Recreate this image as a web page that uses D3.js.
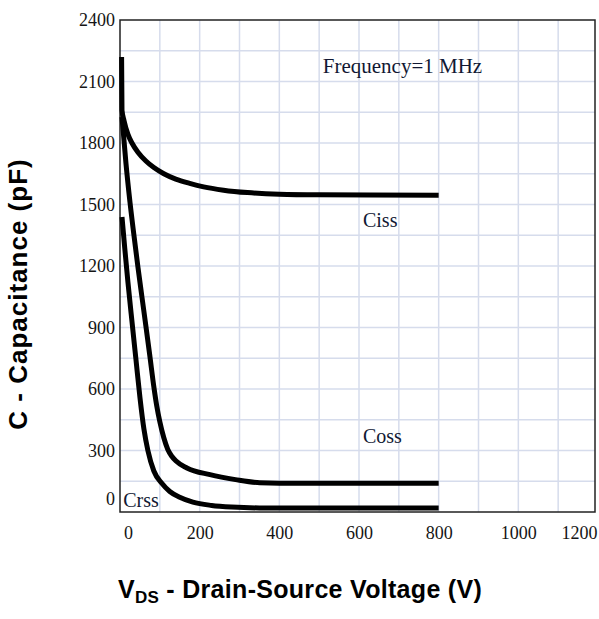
<!DOCTYPE html>
<html><head><meta charset="utf-8">
<script src="https://cdn.jsdelivr.net/npm/d3@7"></script>
<style>
html,body{margin:0;padding:0;background:#fff;}
svg{display:block;}
</style></head>
<body>
<svg id="chart" width="599" height="619"></svg>
<script>
// ---- data ----
const cissV = [4, 5, 10, 20, 30, 45, 65, 85, 110, 140, 175, 210, 260, 320, 400, 500, 800];
const cissC = [2220, 1960, 1910, 1842, 1800, 1755, 1712, 1680, 1650, 1624, 1603, 1586, 1570, 1558, 1550, 1547, 1545];
const cossV = [5, 15, 25, 35, 45, 55, 65, 75, 85, 92, 100, 110, 120, 130, 140, 168, 226, 290, 351, 450, 800];
const cossC = [1927, 1700, 1512, 1350, 1195, 1050, 907, 760, 610, 520, 440, 362, 305, 272, 250, 215, 182, 158, 143, 140, 140];
const crssV = [5, 12, 20, 30, 40, 50, 60, 70, 85, 105, 125, 150, 183, 230, 280, 350, 800];
const crssC = [1439, 1285, 1120, 930, 745, 560, 405, 300, 200, 140, 100, 72, 48, 32, 24, 20, 20];
const xTicks = [0, 200, 400, 600, 800, 1000, 1200];
const yTicks = [0, 300, 600, 900, 1200, 1500, 1800, 2100, 2400];
const labelNames = ["Frequency=1 MHz", "Ciss", "Coss", "Crss"];
const labelV = [509, 610, 610, 8];
const labelC = [2141, 1390, 337, 24];
const labelSize = [21, 20, 20, 20];

const svg = d3.select("#chart");
const L = 120, R = 595, T = 20, B = 512;
const x = d3.scaleLinear().domain([0, 1200]).range([L, 598]);
const y = d3.scaleLinear().domain([0, 2400]).range([B, T]);

// grid
const gridX = d3.range(100, 1200, 100);
const gridY = d3.range(150, 2400, 150);
svg.append("g").selectAll("line").data(gridX).join("line")
  .attr("x1", d => x(d)).attr("x2", d => x(d)).attr("y1", T).attr("y2", B)
  .attr("stroke", "#d6dcec").attr("stroke-width", 1.5);
svg.append("g").selectAll("line").data(gridY).join("line")
  .attr("x1", L).attr("x2", R).attr("y1", d => y(d)).attr("y2", d => y(d))
  .attr("stroke", "#d6dcec").attr("stroke-width", 1.5);

// frame
svg.append("rect").attr("x", L).attr("y", T).attr("width", R - L).attr("height", B - T)
  .attr("fill", "none").attr("stroke", "#222").attr("stroke-width", 1.5);

// axes
const tickFont = "'Liberation Serif', serif";
const xa = svg.append("g").attr("transform", `translate(0,${B})`)
  .call(d3.axisBottom(x).tickValues(xTicks).tickSize(0).tickPadding(14).tickFormat(d3.format("d")));
xa.select(".domain").remove();
xa.selectAll("text").attr("font-family", tickFont).attr("font-size", 18).attr("fill", "#151515");
xa.selectAll(".tick").filter(d => d === 0).select("text").attr("dx", 8);
xa.selectAll(".tick").filter(d => d === 1200).select("text").attr("text-anchor", "end").attr("dx", -1);

const ya = svg.append("g").attr("transform", `translate(${L},0)`)
  .call(d3.axisLeft(y).tickValues(yTicks).tickSize(0).tickPadding(5).tickFormat(d3.format("d")));
ya.select(".domain").remove();
ya.selectAll("text").attr("font-family", tickFont).attr("font-size", 18).attr("fill", "#151515");
ya.selectAll(".tick").filter(d => d === 0).select("text").attr("dy", "-0.4em");

// curves
const line = d3.line().x(d => x(d[0])).y(d => y(d[1])).curve(d3.curveMonotoneX);
const series = [d3.zip(cissV, cissC), d3.zip(cossV, cossC), d3.zip(crssV, crssC)];
svg.append("g").selectAll("path").data(series).join("path")
  .attr("d", line).attr("fill", "none").attr("stroke", "#000").attr("stroke-width", 5)
  .attr("stroke-linecap", "butt").attr("stroke-linejoin", "round");

// annotations
svg.append("g").selectAll("text").data(labelNames).join("text")
  .attr("x", (d, i) => x(labelV[i])).attr("y", (d, i) => y(labelC[i]))
  .attr("font-family", tickFont).attr("font-size", (d, i) => labelSize[i]).attr("fill", "#111833")
  .text(d => d);

// axis titles
const titleFont = "'Liberation Sans', Arial, sans-serif";
const xt = svg.append("text").attr("x", 300).attr("y", 598).attr("text-anchor", "middle")
  .attr("font-family", titleFont).attr("font-weight", "bold").attr("font-size", 25)
  .attr("letter-spacing", 0.3).attr("fill", "#000");
xt.append("tspan").text("V");
xt.append("tspan").attr("font-size", 17).attr("dy", 5).text("DS");
xt.append("tspan").attr("dy", -5).text(" - Drain-Source Voltage (V)");

svg.append("text").attr("transform", "translate(27,294) rotate(-90)").attr("text-anchor", "middle")
  .attr("font-family", titleFont).attr("font-weight", "bold").attr("font-size", 26)
  .attr("letter-spacing", 1).attr("fill", "#000")
  .text("C - Capacitance (pF)");
</script>
</body></html>
